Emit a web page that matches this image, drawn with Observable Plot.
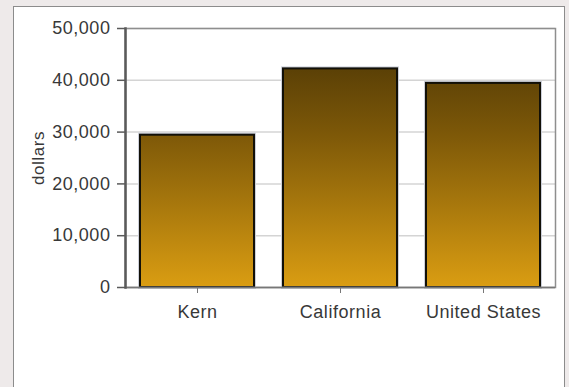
<!DOCTYPE html>
<html>
<head>
<meta charset="utf-8">
<script src="https://cdn.jsdelivr.net/npm/d3@7"></script>
<script src="https://cdn.jsdelivr.net/npm/@observablehq/plot@0.6"></script>
<style>
  html, body { margin: 0; padding: 0; background: #eeeaea; width: 569px; height: 387px; overflow: hidden; }
  #panel { position: absolute; left: 13px; top: 6px; width: 550px; height: 420px;
           background: #fff; border: 1px solid #8c8c8c; border-bottom: none; }
  #chart { position: absolute; left: 0; top: 0; }
</style>
</head>
<body>
<div id="panel"></div>
<div id="chart"></div>
<script>
// Per-capita income, in dollars
const regions = ["Kern", "California", "United States"];
const incomes = [29400, 42200, 39400];
const yTicks = [0, 10000, 20000, 30000, 40000, 50000];
const yLabel = "dollars";

const rows = regions.map((region, i) => ({region, income: incomes[i]}));

// Vertical brown-to-gold gradient spanning the whole value range
const gradientDefs = (index, scales) => {
  const defs = d3.create("svg:defs");
  const g = defs.append("linearGradient")
    .attr("id", "barFill")
    .attr("gradientUnits", "userSpaceOnUse")
    .attr("x1", 0).attr("x2", 0)
    .attr("y1", scales.y(d3.max(yTicks)))
    .attr("y2", scales.y(0));
  g.append("stop").attr("offset", "0").attr("stop-color", "#463205");
  g.append("stop").attr("offset", "0.41").attr("stop-color", "#7d5808");
  g.append("stop").attr("offset", "1").attr("stop-color", "#da9d12");
  return defs.node();
};

const chart = Plot.plot({
  width: 569,
  height: 387,
  marginLeft: 125,
  marginRight: 14,
  marginTop: 28,
  marginBottom: 100,
  style: {background: "none", fontFamily: "'Liberation Sans', Arial, sans-serif", fontSize: "18px",
          letterSpacing: "0.55px", overflow: "visible"},
  x: {domain: regions, paddingInner: 0.2, paddingOuter: 0.1, label: null},
  y: {domain: [0, d3.max(yTicks)], label: null},
  marks: [
    gradientDefs,
    Plot.gridY(yTicks, {stroke: "#d4d4d4", strokeOpacity: 1, strokeWidth: 1.5}),
    Plot.barY(rows, {x: "region", y: "income", fill: "none", stroke: "#cdd0da", strokeWidth: 4}),
    Plot.barY(rows, {x: "region", y: "income", fill: "url(#barFill)", stroke: "#121008", strokeWidth: 2}),
    Plot.frame({stroke: "#8e8e8e", strokeWidth: 1.5}),
    Plot.ruleY([0], {stroke: "#777", strokeWidth: 1.5}),
    Plot.frame({anchor: "left", stroke: "#5a5a5a", strokeWidth: 2.5}),
    Plot.axisY({ticks: yTicks, tickFormat: d3.format(","), tickSize: 8, tickPadding: 7,
                stroke: "#5a5a5a", strokeWidth: 1.5, fill: "#383838", label: null}),
    Plot.axisX({tickSize: 6, tickPadding: 12, stroke: "#777", fill: "#383838", label: null}),
    Plot.text([yLabel], {frameAnchor: "left", textAnchor: "middle", dx: -87, rotate: -90,
                         fontSize: 17, fill: "#383838"})
  ]
});

document.getElementById("chart").appendChild(chart);
</script>
</body>
</html>
